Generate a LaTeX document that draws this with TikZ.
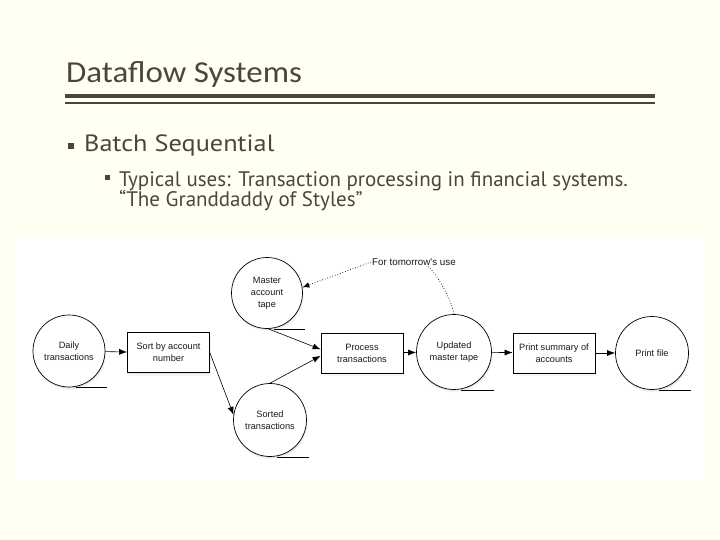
\documentclass[tikz,border=0pt]{standalone}
\usepackage{fontspec}
\setmainfont{Carlito}
\newfontfamily\titlefont[FakeStretch=1.08]{Carlito}
\newfontfamily\headfont[FakeStretch=1.12]{PT Sans}
\newfontfamily\bodyfont{PT Sans}
\newfontfamily\diafont{Liberation Sans}
\usetikzlibrary{arrows.meta,shadows,calc}
\definecolor{bgc}{RGB}{255,255,242}
\definecolor{txtc}{RGB}{74,70,60}
\definecolor{diac}{RGB}{25,25,25}
\tikzset{
  softshadow/.style={
     drop shadow={shadow xshift=0.4pt, shadow yshift=-1.2pt, opacity=0.16},
     drop shadow={shadow xshift=1.2pt, shadow yshift=-2.8pt, opacity=0.08}},
  datastore/.style={circle, draw=black, line width=0.7pt, fill=white, minimum size=73pt, inner sep=0pt,
     align=center, font=\diafont\fontsize{9.2}{12}\selectfont, text=diac, softshadow},
  procbox/.style={rectangle, draw=black, line width=0.7pt, fill=white, minimum width=82pt, minimum height=40pt,
     inner sep=0pt, align=center, font=\diafont\fontsize{9.2}{12}\selectfont, text=diac, softshadow},
  flow/.style={draw=black, line width=0.6pt, -{Latex[length=8pt,width=6pt]}},
  note/.style={draw=black, line width=0.7pt, dotted},
  tick/.style={draw=black, line width=0.7pt},
}
\begin{document}
\begin{tikzpicture}[x=1pt,y=-1pt]
\fill[bgc] (0,0) rectangle (720,540);
\useasboundingbox (0,0) rectangle (720,540);
\fill[white] (16,237) rectangle (705,480);

% title
\node[anchor=base west, inner sep=0pt, text=txtc, font=\titlefont\fontsize{30.5}{32}\selectfont] (title) at (66,82.7) {Dataflow Systems};
\fill[txtc] (65,93.8) rectangle (655,97.6);
\fill[txtc] (65,102) rectangle (655,104);

% bullets
\fill[txtc] (67.5,143.3) rectangle (73.5,149.5);
\node[anchor=base west, inner sep=0pt, text=txtc, font=\headfont\fontsize{23.5}{26}\selectfont] (b1) at (84,151.7) {Batch Sequential};
\fill[txtc] (105,175) rectangle (110,180);
\node[anchor=base west, inner sep=0pt, text=txtc, font=\bodyfont\fontsize{21}{23}\selectfont] (b2) at (119,186.7) {Typical uses: Transaction processing in financial systems.};
\node[anchor=base west, inner sep=0pt, text=txtc, font=\bodyfont\fontsize{21}{23}\selectfont] (b3) at (119,206.7) {“The Granddaddy of Styles”};

% diagram nodes
\node[datastore, minimum size=72pt] (daily) at (69,351) {Daily\\transactions};
\node[procbox] (sort) at (168.5,352.7) {Sort by account\\number};
\node[datastore, minimum size=71pt] (master) at (267,293) {Master\\account\\tape};
\node[datastore] (sorted) at (270,420) {Sorted\\transactions};
\node[procbox] (process) at (362,353) {Process\\transactions};
\node[datastore, minimum size=75pt] (updated) at (454,352) {Updated\\master tape};
\node[procbox] (summary) at (554,353) {Print summary of\\accounts};
\node[datastore] (printfile) at (652,353) {Print file};
\node[inner sep=1pt, font=\diafont\fontsize{9.8}{11}\selectfont, text=diac] (lbl) at (414,262) {For tomorrow's use};

% ticks under stores
\foreach \n in {daily,master,sorted,updated,printfile}{
  \draw[tick] ([xshift=7pt]\n.south) -- ([xshift=2pt]\n.south -| \n.east);
}

% flows
\draw[flow] (daily) -- (sort);
\draw[flow] (sort.east) -- (sorted.172);
\draw[flow] (master.-88) -- (process.175);
\draw[flow] (sorted.north) -- (process.184);
\draw[flow] (process) -- (updated);
\draw[flow] (updated) -- (summary);
\draw[flow] (summary) -- (printfile);

% notes
\coordinate (lblfoot) at ([xshift=14pt]lbl.south);
\draw[note, -{Latex[length=7pt,width=5.5pt]}] (lbl.west) -- (master.9);
\draw[note] (lblfoot) .. controls +(8,6) and +(-2,-14) .. (updated.north);
\end{tikzpicture}
\end{document}
